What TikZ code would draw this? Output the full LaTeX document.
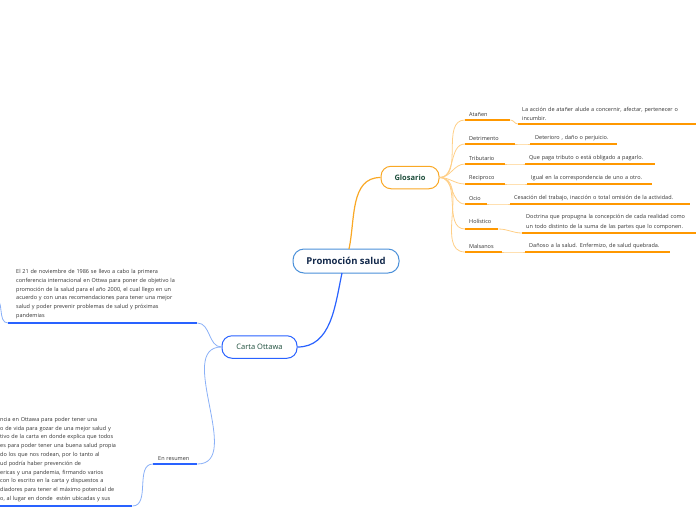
\documentclass[tikz,border=0pt]{standalone}
\usepackage{fontspec}
\setmainfont{Open Sans}
\usepackage{tikz}
\usetikzlibrary{positioning}

\definecolor{orgmain}{HTML}{F9A825}
\definecolor{orgline}{HTML}{FF9800}
\definecolor{orglight}{HTML}{FFCF87}
\definecolor{bluemain}{HTML}{2962FF}
\definecolor{bluelight}{HTML}{8AB0F7}
\definecolor{blueframe}{HTML}{4A90D9}
\definecolor{navytext}{HTML}{13294B}
\definecolor{greentext}{HTML}{1D4D3B}
\definecolor{bodytext}{HTML}{333333}

\begin{document}
\begin{tikzpicture}[
  x=1pt, y=-1pt,
  central/.style={draw=blueframe, line width=1pt, rounded corners=11pt, fill=white,
    minimum width=106pt, minimum height=24pt, text=navytext, font=\fontsize{9.5}{11}\selectfont\bfseries},
  topic/.style={draw, line width=1pt, rounded corners=10pt, fill=white,
    minimum height=22.5pt, text=greentext},
  term/.style={anchor=south west, inner xsep=4pt, inner ysep=3pt, align=left,
    text=bodytext, font=\fontsize{5.5}{9}\selectfont},
  defn/.style={anchor=south west, inner xsep=4pt, inner ysep=3pt, align=left,
    text=bodytext, font=\fontsize{5.5}{9.5}\selectfont},
  note/.style={anchor=south west, inner xsep=8pt, inner ysep=4pt, align=left,
    text=bodytext, font=\fontsize{5.5}{8.8}\selectfont},
  oline/.style={orgline, line width=1.6pt},
  ofan/.style={orglight, line width=0.8pt},
  bline/.style={bluemain, line width=1.6pt},
  bfan/.style={bluelight, line width=0.8pt}
]
\useasboundingbox (0,0) rectangle (696,520);
\clip (0,0) rectangle (696,520);

% main topics
\node[central] (prom) at (346,261) {Promoción salud};
\node[topic, draw=orgmain, minimum width=58pt, font=\fontsize{7.5}{9}\selectfont\bfseries] (glos) at (410,177.5) {Glosario};
\node[topic, draw=bluemain, minimum width=75pt, font=\fontsize{7.5}{9}\selectfont] (carta) at (259.5,347) {Carta Ottawa};

\draw[orgmain, line width=1.2pt] (349,249) to[out=78,in=180] (glos.west);
\draw[bluemain, line width=1.2pt] (342,273) to[out=-102,in=0] (carta.east);

% glosario terms
\node[term, text width=37pt] (atanen) at (465,120) {Atañen};
\node[term, text width=42pt] (detri) at (465,144) {Detrimento};
\node[term, text width=32pt] (tribu) at (465,164) {Tributario};
\node[term, text width=32pt] (recip) at (465,184) {Reciproco};
\node[term, text width=14pt] (ocio) at (465,204) {Ocio};
\node[term, text width=25pt, inner ysep=5pt] (holis) at (465,229) {Holístico};
\node[term, text width=29pt] (malsa) at (465,252) {Malsanos};

\draw[oline] (atanen.south west) -- (atanen.south east);
\draw[oline] (detri.south west) -- (detri.south east);
\draw[oline] (tribu.south west) -- (tribu.south east);
\draw[oline] (recip.south west) -- (recip.south east);
\draw[oline] (ocio.south west) -- (ocio.south east);
\draw[oline] (holis.south west) -- (holis.south east);
\draw[oline] (malsa.south west) -- (malsa.south east);

\draw[ofan] (glos.east) to[out=0,in=180] (atanen.south west);
\draw[ofan] (glos.east) to[out=0,in=180] (detri.south west);
\draw[ofan] (glos.east) to[out=0,in=180] (tribu.south west);
\draw[ofan] (glos.east) to[out=0,in=180] (recip.south west);
\draw[ofan] (glos.east) to[out=0,in=180] (ocio.south west);
\draw[ofan] (glos.east) to[out=0,in=180] (holis.south west);
\draw[ofan] (glos.east) to[out=0,in=180] (malsa.south west);

% definitions
\node[defn, text width=186pt] (d-atanen) at (518,124) {La acción de atañer alude a concernir, afectar, pertenecer o\\incumbir.};
\node[defn, text width=79pt, inner xsep=4pt] (d-detri) at (530,144) {\hspace*{1pt}Deterioro , daño o perjuicio.};
\node[defn, text width=122pt] (d-tribu) at (525,164) {Que paga tributo o está obligado a pagarlo.};
\node[defn, text width=117pt] (d-recip) at (527,184) {Igual en la correspondencia de uno a otro.};
\node[defn, text width=172pt] (d-ocio) at (510,204) {Cesación del trabajo, inacción o total omisión de la actividad.};
\node[defn, text width=180pt] (d-holis) at (522,233) {Doctrina que propugna la concepción de cada realidad como\\un todo distinto de la suma de las partes que lo componen.};
\node[defn, text width=137pt] (d-malsa) at (525,252) {Dañoso a la salud. Enfermizo, de salud quebrada.};

\draw[oline] (d-atanen.south west) -- (d-atanen.south east);
\draw[oline] (d-detri.south west) -- (d-detri.south east);
\draw[oline] (d-tribu.south west) -- (d-tribu.south east);
\draw[oline] (d-recip.south west) -- (d-recip.south east);
\draw[oline] (d-ocio.south west) -- (d-ocio.south east);
\draw[oline] (d-holis.south west) -- (d-holis.south east);
\draw[oline] (d-malsa.south west) -- (d-malsa.south east);

\draw[ofan] (atanen.south east) to[out=0,in=180] (d-atanen.south west);
\draw[ofan] (detri.south east) to[out=0,in=180] (d-detri.south west);
\draw[ofan] (tribu.south east) to[out=0,in=180] (d-tribu.south west);
\draw[ofan] (recip.south east) to[out=0,in=180] (d-recip.south west);
\draw[ofan] (ocio.south east) to[out=0,in=180] (d-ocio.south west);
\draw[ofan] (holis.south east) to[out=0,in=180] (d-holis.south west);
\draw[ofan] (malsa.south east) to[out=0,in=180] (d-malsa.south west);

% carta ottawa
\node[note, text width=173pt] (hist) at (8,323) {El 21 de noviembre de 1986 se llevo a cabo la primera\\conferencia internacional en Ottwa para poner de objetivo la\\promoción de la salud para el año 2000, el cual llego en un\\acuerdo y con unas recomendaciones para tener una mejor\\salud y poder prevenir problemas de salud y próximas\\pandemias};
\node[term, text width=36pt, inner xsep=4pt] (resu) at (153,464) {\hspace*{1pt}En resumen};
\node[note, text width=130pt, inner xsep=2pt] (resu-txt) at (-2,506) {ncia en Ottawa para poder tener una\\o de vida para gozar de una mejor salud y\\tivo de la carta en donde explica que todos\\es para poder tener una buena salud propia\\do los que nos rodean, por lo tanto al\\ud podría haber prevención de\\ericas y una pandemia, firmando varios\\ con lo escrito en la carta y dispuestos a\\diadores para tener el máximo potencial de\\o, al lugar en donde~ estén ubicadas y sus};
\coordinate (hist-in) at (-6,298);

\draw[bline] (hist.south west) -- (hist.south east);
\draw[bline] (resu.south west) -- (resu.south east);
\draw[bline] (resu-txt.south west) -- (resu-txt.south east);

\draw[bfan] (carta.west) to[out=180,in=0] (hist.south east);
\draw[bfan] (carta.west) to[out=180,in=0] (resu.south east);
\draw[bfan] (resu.south west) to[out=180,in=0] (resu-txt.south east);
\draw[bfan] (hist.south west) to[out=180,in=0] (hist-in);
\end{tikzpicture}
\end{document}
